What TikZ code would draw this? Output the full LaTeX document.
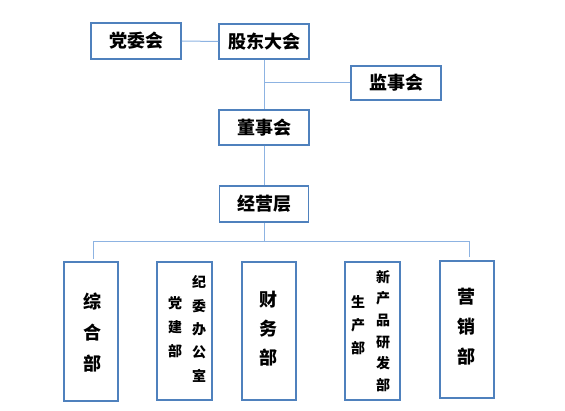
\documentclass[tikz,border=0pt]{standalone}
\usepackage{fontspec}
\newfontfamily\cjk{Noto Sans CJK SC}
\definecolor{boxblue}{HTML}{4F81BD}
\definecolor{lineblue}{HTML}{8DB3E2}
\begin{document}
\begin{tikzpicture}[x=1pt,y=-1pt,
  box/.style={draw=boxblue,line width=1.5pt,fill=white,inner sep=0pt},
  conn/.style={draw=lineblue,line width=1pt},
  big/.style={font=\cjk\bfseries\fontsize{18}{22}\selectfont,text=black,inner sep=0pt,align=center},
  col/.style={text=black,inner sep=0pt,align=center}]
\useasboundingbox (0,0) rectangle (565,411);
% top boxes
\node[box,minimum width=90pt,minimum height=36pt] (dw) at (136,41) {};
\node[big] at (dw) {党委会};
\node[box,minimum width=90pt,minimum height=35pt] (gd) at (264,41.5) {};
\node[big] at (gd) {股东大会};
\node[box,minimum width=90pt,minimum height=34pt] (jsh) at (396,83) {};
\node[big] at (jsh) {监事会};
\node[box,minimum width=90pt,minimum height=35pt] (dsh) at (264,127.5) {};
\node[big] at (dsh) {董事会};
\node[box,minimum width=89pt,minimum height=36pt] (jyc) at (264,204) {};
\node[big] at (jyc) {经营层};
% bottom boxes
\node[box,minimum width=54pt,minimum height=139pt] (zh) at (91,331.5) {};
\node[box,minimum width=55pt,minimum height=138pt] (jw) at (184.5,331) {};
\node[box,minimum width=54pt,minimum height=138pt] (cw) at (269,331) {};
\node[box,minimum width=55pt,minimum height=138pt] (sc) at (372.5,331) {};
\node[box,minimum width=54pt,minimum height=137pt] (yx) at (467,329.5) {};
% texts in bottom boxes
\node[col,font=\cjk\bfseries\fontsize{18}{31}\selectfont] at (92,333) {综\\合\\部};
\node[col,font=\cjk\bfseries\fontsize{14}{23.3}\selectfont] at (199,329) {纪\\委\\办\\公\\室};
\node[col,font=\cjk\bfseries\fontsize{14}{24}\selectfont] at (175,327) {党\\建\\部};
\node[col,font=\cjk\bfseries\fontsize{18}{29}\selectfont] at (268,329) {财\\务\\部};
\node[col,font=\cjk\bfseries\fontsize{14}{21.6}\selectfont] at (383,331) {新\\产\\品\\研\\发\\部};
\node[col,font=\cjk\bfseries\fontsize{14}{23}\selectfont] at (358,325) {生\\产\\部};
\node[col,font=\cjk\bfseries\fontsize{18}{30}\selectfont] at (466,327) {营\\销\\部};
% connectors
\coordinate (bar) at (264,242);
\coordinate (bl) at (93,242);
\coordinate (br) at (469,242);
\coordinate (tl) at (93,259);
\coordinate (tr) at (469,257);
\begin{scope}[on background layer/.try]
\end{scope}
\draw[conn] (dw.east) -- (gd.west);
\draw[conn] (gd.south) -- (dsh.north);
\draw[conn] (gd.south |- jsh.west) -- (jsh.west);
\draw[conn] (dsh.south) -- (jyc.north);
\draw[conn] (jyc.south) -- (bar);
\draw[conn] (tl) -- (bl) -- (br) -- (tr);
\end{tikzpicture}
\end{document}
